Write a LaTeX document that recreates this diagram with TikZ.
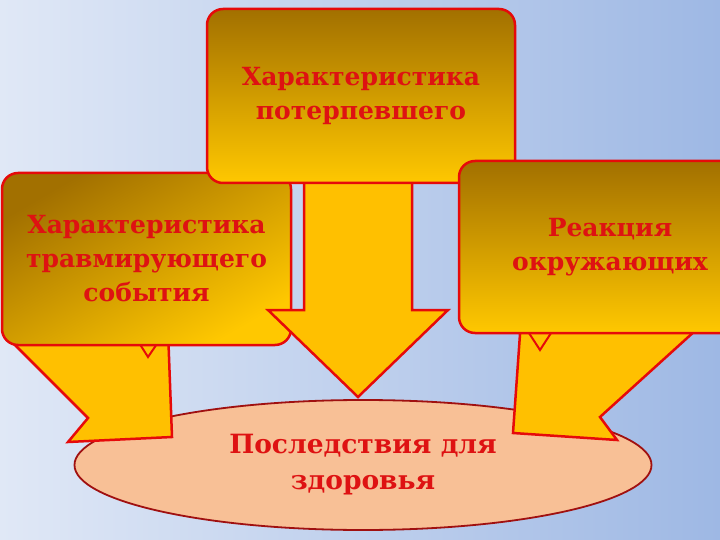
\documentclass[tikz,border=0pt]{standalone}
\usepackage{fontspec}
\setmainfont{DejaVu Serif}
\usetikzlibrary{shapes.geometric}
\definecolor{bgL}{RGB}{224,232,246}
\definecolor{bgR}{RGB}{158,184,228}
\definecolor{goldD}{RGB}{162,112,0}
\definecolor{goldL}{RGB}{255,200,0}
\definecolor{arrowY}{RGB}{255,192,0}
\definecolor{lineR}{RGB}{230,10,10}
\definecolor{txtR}{RGB}{222,18,18}
\definecolor{peach}{RGB}{248,192,150}
\definecolor{ellR}{RGB}{160,16,16}
\begin{document}
\begin{tikzpicture}[x=1pt,y=-1pt,
  labeltext/.style={text=txtR, font=\bfseries\fontsize{25}{34}\selectfont, align=center},
  box/.style={labeltext, draw=lineR, line width=2.5pt, rounded corners=16pt, inner sep=0pt,
    top color=goldD, bottom color=goldL},
  blockarrow/.style={fill=arrowY, draw=lineR, line width=2.5pt, line join=miter},
  pointer/.style={fill=arrowY, draw=lineR, line width=2pt, line join=miter},
  result/.style={labeltext, font=\bfseries\fontsize{26.5}{36}\selectfont, ellipse, draw=ellR, line width=1.8pt, fill=peach, inner sep=0pt}]
\useasboundingbox (0,0) rectangle (720,540);
\clip (0,0) rectangle (720,540);
\shade[left color=bgL, right color=bgR] (0,0) rectangle (720,540);
% result ellipse
\node[result, minimum width=577pt, minimum height=130pt] (ell) at (363,465) {Последствия для\\здоровья};
% left arrow and box
\draw[blockarrow] (5,335) -- (88,418) -- (68,442) -- (172,437) -- (168,330) -- cycle;
\draw[pointer] (136,338) -- (148,357) -- (161,338) -- cycle;
\node[box, shading angle=30, minimum width=289pt, minimum height=172pt] (lbox) at (146.5,259) {Характеристика\\травмирующего\\события};
% top arrow and box
\draw[blockarrow] (304,170) -- (304,310) -- (268,310) -- (358,397) -- (448,310) -- (412,310) -- (412,170) -- cycle;
\node[box, minimum width=308pt, minimum height=174pt] (tbox) at (361,96) {Характеристика\\потерпевшего};
% right arrow and box
\draw[blockarrow] (521,320) -- (513,433) -- (617,440) -- (600,417) -- (707,320) -- cycle;
\draw[pointer] (527,330) -- (540,350) -- (553,330) -- cycle;
\node[box, minimum width=302pt, minimum height=172pt] (rbox) at (610,247) {Реакция\\окружающих};
\end{tikzpicture}
\end{document}
